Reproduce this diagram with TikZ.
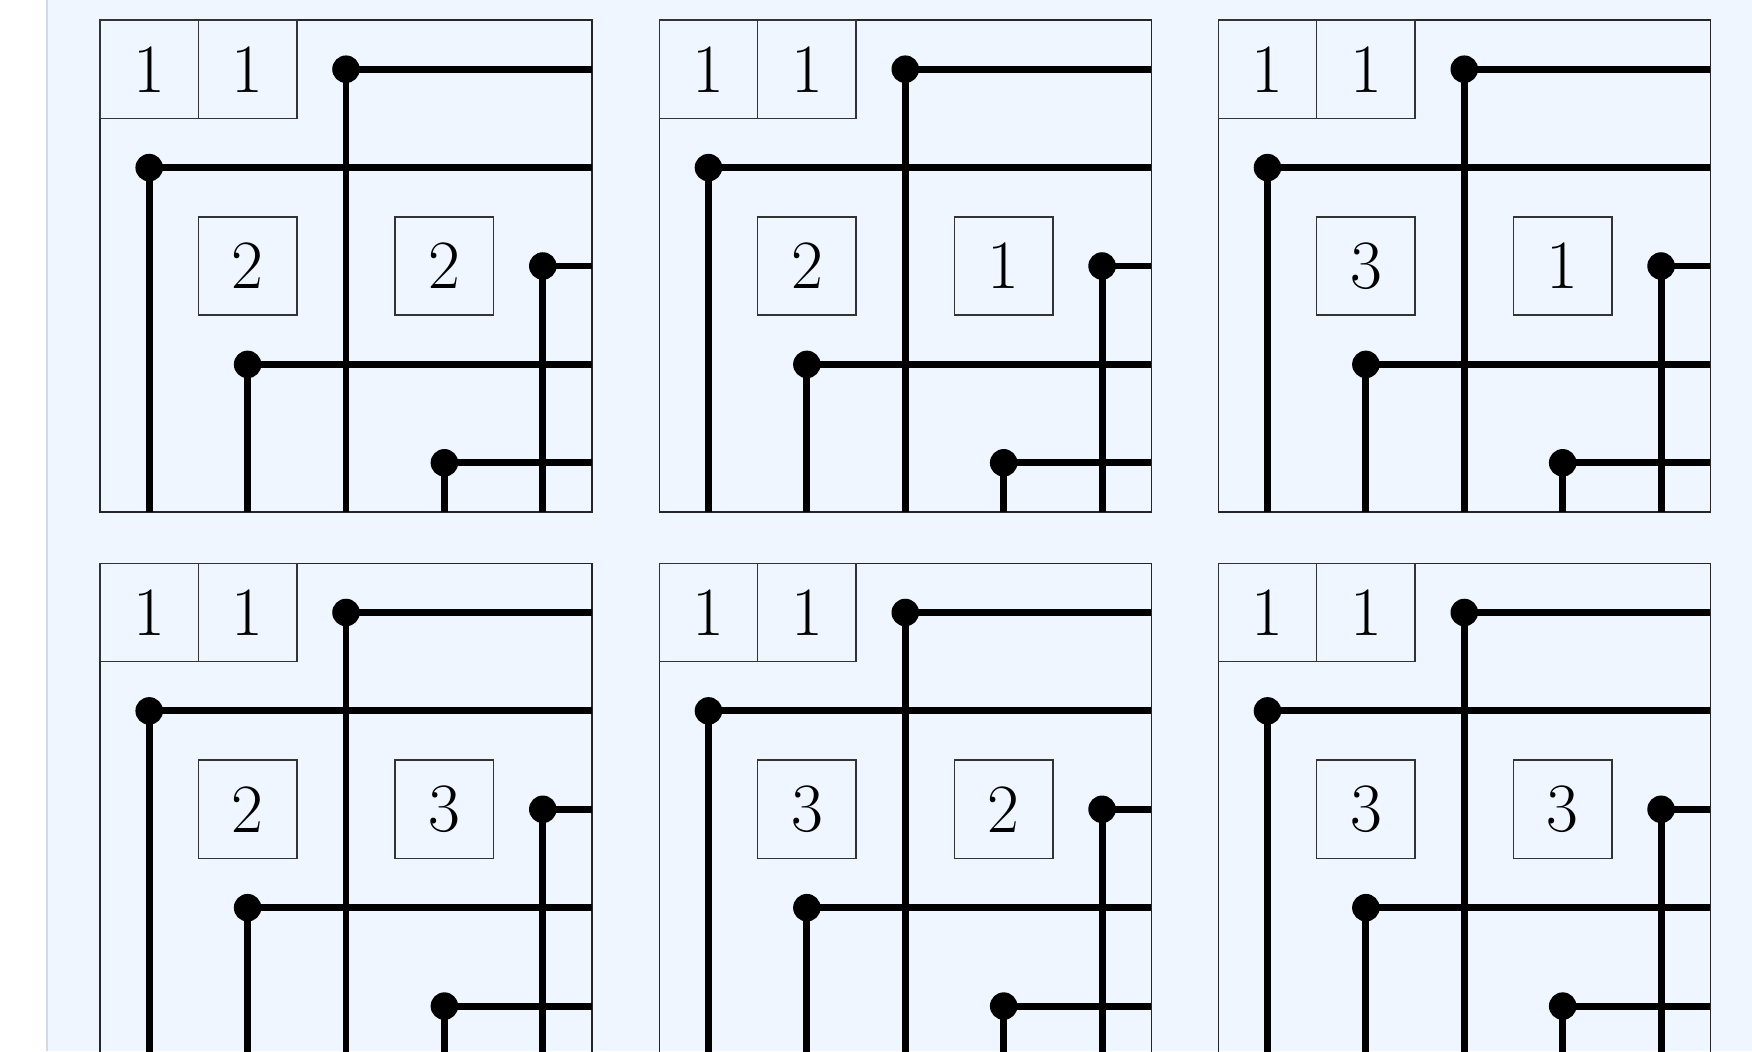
\documentclass[tikz,border=0pt]{standalone}
\definecolor{bgblue}{HTML}{EFF6FF}
\definecolor{edgegray}{HTML}{D3DAE6}
\tikzset{
  frame/.style={draw=black!85, line width=0.45pt},
  cellbox/.style={draw=black!80, line width=0.45pt, minimum size=1cm, inner sep=0pt, font=\fontsize{20}{24}\selectfont},
  dotnode/.style={circle, fill=black, minimum size=0.28cm, inner sep=0pt},
  wire/.style={line width=2pt, black}
}
\newcommand\rothepanel[5]{%
\begin{scope}[shift={(#1,#2)}, name prefix=#3-]
  \draw[frame] (0,0) rectangle (5,5);
  \node[cellbox] (c1) at (0.5,0.5) {1};
  \node[cellbox] (c2) at (1.5,0.5) {1};
  \node[cellbox] (c3) at (1.5,2.5) {#4};
  \node[cellbox] (c4) at (3.5,2.5) {#5};
  \foreach \i/\x/\y in {1/2.5/0.5, 2/0.5/1.5, 3/4.5/2.5, 4/1.5/3.5, 5/3.5/4.5} {
    \coordinate (h\i) at (5,\y);
    \coordinate (v\i) at (\x,5);
    \node[dotnode] (d\i) at (\x,\y) {};
    \draw[wire] (d\i.center) -- (h\i);
    \draw[wire] (d\i.center) -- (v\i);
  }
\end{scope}}
\begin{document}
\begin{tikzpicture}[x=1cm,y=-1cm]
  \clip (0,0) rectangle (17.805,10.681);
  \fill[white] (0,0) rectangle (17.805,10.681);
  \fill[bgblue] (0.4746,0) rectangle (17.805,10.681);
  \draw[edgegray, line width=0.5pt] (0.4746,0) -- (0.4746,10.681);
  \rothepanel{1.0163}{0.2033}{pa}{2}{2}
  \rothepanel{6.700}{0.2033}{pb}{2}{1}
  \rothepanel{12.381}{0.2033}{pc}{3}{1}
  \rothepanel{1.0163}{5.7246}{pd}{2}{3}
  \rothepanel{6.700}{5.7246}{pe}{3}{2}
  \rothepanel{12.381}{5.7246}{pf}{3}{3}
\end{tikzpicture}
\end{document}
